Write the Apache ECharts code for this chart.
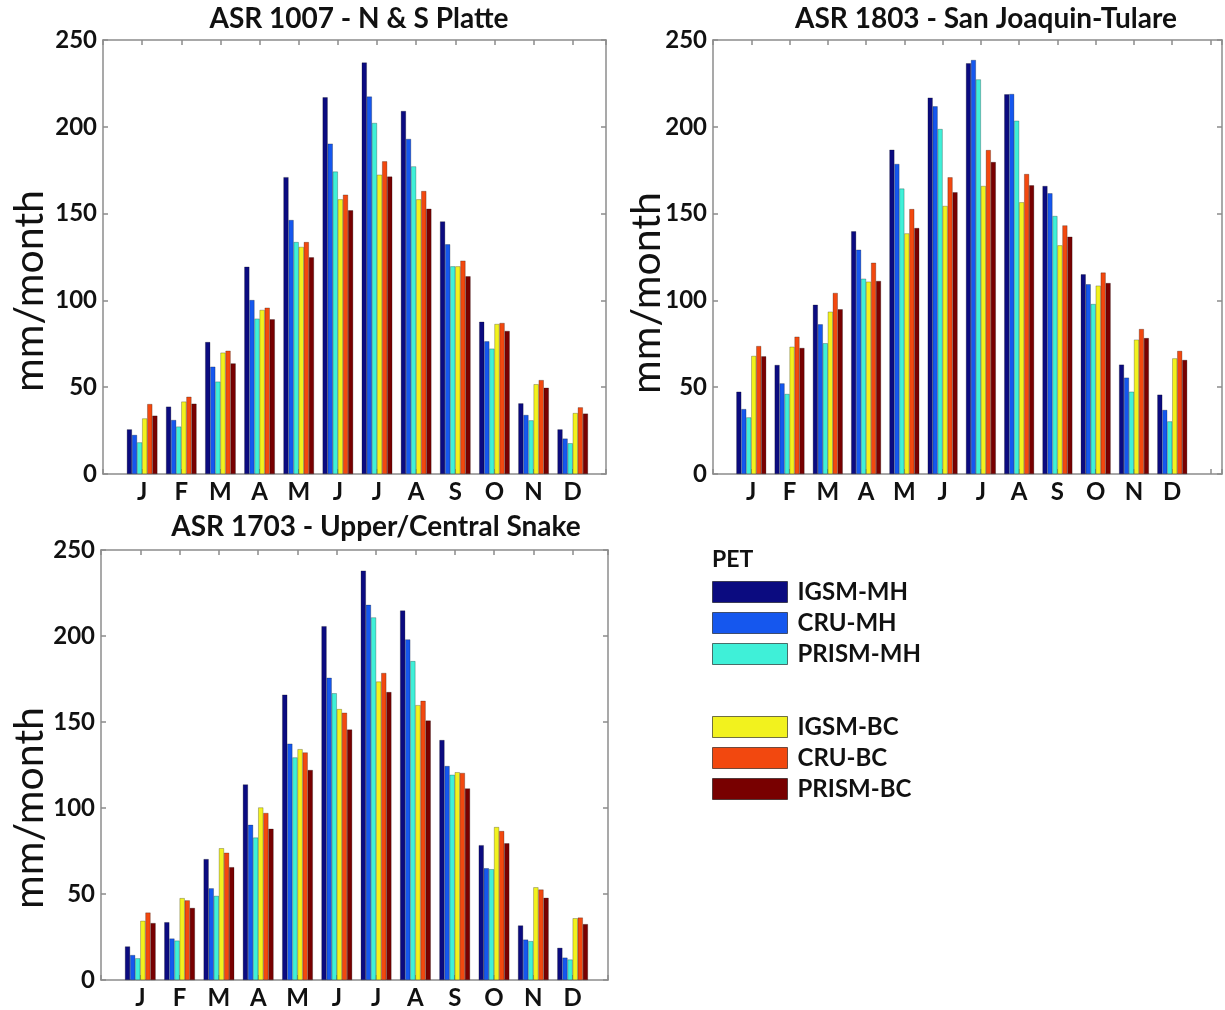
<!DOCTYPE html>
<html>
<head>
<meta charset="utf-8">
<script src="https://cdn.jsdelivr.net/npm/echarts@6/dist/echarts.min.js"></script>
<style>
html, body { margin: 0; padding: 0; background: #fff; }
#chart { width: 1225px; height: 1010px; }
</style>
</head>
<body>
<div id="chart"></div>
<script>
const months = ['J', 'F', 'M', 'A', 'M', 'J', 'J', 'A', 'S', 'O', 'N', 'D'];
const yTicks = [0, 50, 100, 150, 200, 250];
const seriesNames = ['IGSM-MH', 'CRU-MH', 'PRISM-MH', 'IGSM-BC', 'CRU-BC', 'PRISM-BC'];
const seriesColors = ['#0b0b80', '#1557ee', '#3ff0d8', '#f2f21e', '#f2480f', '#780000'];

// ASR 1007 - N & S Platte
const platteIgsmMH  = [25.7, 38.8, 76.0, 119.4, 171.0, 217.0, 237.0, 209.1, 145.5, 87.7, 40.7, 25.7];
const platteCruMH   = [22.5, 31.1, 61.8, 100.2, 146.3, 190.3, 217.4, 193.0, 132.3, 76.4, 34.0, 20.4];
const plattePrismMH = [18.2, 27.3, 53.2, 89.5, 133.6, 174.2, 202.2, 177.2, 119.6, 72.2, 30.9, 17.7];
const platteIgsmBC  = [32.0, 41.7, 69.9, 94.5, 130.8, 158.2, 172.4, 158.2, 119.6, 86.4, 51.7, 35.1];
const platteCruBC   = [40.3, 44.5, 71.0, 95.8, 133.6, 160.9, 180.1, 163.0, 122.9, 87.0, 54.1, 38.4];
const plattePrismBC = [33.6, 40.5, 63.7, 89.1, 124.8, 151.9, 171.3, 152.8, 113.9, 82.4, 49.7, 34.8];

// ASR 1803 - San Joaquin-Tulare
const tulareIgsmMH  = [47.4, 62.8, 97.5, 139.8, 186.8, 216.8, 236.6, 218.7, 165.9, 115.0, 63.0, 45.7];
const tulareCruMH   = [37.4, 52.2, 86.2, 129.2, 178.6, 211.8, 238.5, 218.9, 161.7, 109.3, 55.5, 36.9];
const tularePrismMH = [32.6, 46.1, 75.3, 112.5, 164.4, 198.7, 227.3, 203.5, 148.6, 97.9, 47.4, 30.3];
const tulareIgsmBC  = [68.0, 73.3, 93.5, 110.8, 138.6, 154.4, 165.9, 156.5, 131.7, 108.5, 77.4, 66.6];
const tulareCruBC   = [73.7, 79.1, 104.3, 121.7, 152.6, 170.9, 186.6, 172.8, 143.2, 116.0, 83.5, 70.9];
const tularePrismBC = [67.8, 72.6, 94.9, 111.2, 141.7, 162.3, 179.7, 166.3, 136.7, 110.0, 78.3, 65.7];

// ASR 1703 - Upper/Central Snake
const snakeIgsmMH  = [19.5, 33.6, 70.3, 113.7, 165.9, 205.7, 238.0, 214.8, 139.5, 78.4, 31.7, 18.7];
const snakeCruMH   = [14.5, 24.1, 53.3, 90.2, 137.4, 175.7, 218.1, 198.0, 124.4, 65.0, 23.5, 13.0];
const snakePrismMH = [12.6, 22.9, 48.9, 82.8, 129.4, 166.7, 210.8, 185.4, 119.3, 64.4, 22.6, 11.9];
const snakeIgsmBC  = [34.4, 47.6, 76.6, 100.3, 134.2, 157.5, 173.5, 159.8, 120.8, 88.9, 53.9, 35.9];
const snakeCruBC   = [39.2, 46.3, 74.0, 97.1, 132.3, 155.4, 178.5, 162.3, 120.4, 86.6, 52.6, 36.3];
const snakePrismBC = [33.1, 41.9, 65.6, 87.9, 122.1, 145.6, 167.4, 150.8, 111.4, 79.5, 47.8, 32.5];

const panels = [
  { title: 'ASR 1007 - N & S Platte', data: [platteIgsmMH, platteCruMH, plattePrismMH, platteIgsmBC, platteCruBC, plattePrismBC],
    grid: { left: 103, top: 40, width: 503, height: 434 }, xMax: 12.85, titleX: 359, titleY: 22, nameX: 30, nameY: 291 },
  { title: 'ASR 1803 - San Joaquin-Tulare', data: [tulareIgsmMH, tulareCruMH, tularePrismMH, tulareIgsmBC, tulareCruBC, tularePrismBC],
    grid: { left: 713, top: 40, width: 509, height: 434 }, xMax: 13.3, titleX: 986, titleY: 22, nameX: 647, nameY: 293 },
  { title: 'ASR 1703 - Upper/Central Snake', data: [snakeIgsmMH, snakeCruMH, snakePrismMH, snakeIgsmBC, snakeCruBC, snakePrismBC],
    grid: { left: 101, top: 550, width: 507, height: 436 }, xMax: 12.9, titleX: 376, titleY: 530, nameX: 30, nameY: 808 }
];

const FONT = 'Lato';
const frameColor = '#8c8c8c';

const grid = [], xAxis = [], yAxis = [], series = [], title = [], graphic = [];

panels.forEach(function (p, i) {
  grid.push(p.grid);
  const lineStyle = { color: frameColor, width: 1.5 };
  // bottom (labelled) and top (frame) x axes
  xAxis.push({
    type: 'value', gridIndex: i, min: 0, max: p.xMax, interval: 1, position: 'bottom',
    axisLine: { show: true, onZero: false, lineStyle: lineStyle },
    axisTick: { show: true, inside: true, length: 5, lineStyle: lineStyle },
    splitLine: { show: false },
    axisLabel: {
      margin: 6, color: '#111', fontFamily: FONT, fontWeight: 'bold', fontSize: 24,
      formatter: function (v) { return (Number.isInteger(v) && v >= 1 && v <= 12) ? months[v - 1] : ''; }
    }
  });
  xAxis.push({
    type: 'value', gridIndex: i, min: 0, max: p.xMax, interval: 1, position: 'top',
    axisLine: { show: true, onZero: false, lineStyle: lineStyle },
    axisTick: { show: true, inside: true, length: 5, lineStyle: lineStyle },
    splitLine: { show: false }, axisLabel: { show: false }
  });
  yAxis.push({
    type: 'value', gridIndex: i, min: yTicks[0], max: yTicks[yTicks.length - 1], interval: 50, position: 'left',
    axisLine: { show: true, onZero: false, lineStyle: lineStyle },
    axisTick: { show: true, inside: true, length: 5, lineStyle: lineStyle },
    splitLine: { show: false },
    axisLabel: { margin: 6, color: '#111', fontFamily: FONT, fontWeight: 'bold', fontSize: 24 }
  });
  yAxis.push({
    type: 'value', gridIndex: i, min: yTicks[0], max: yTicks[yTicks.length - 1], interval: 50, position: 'right',
    axisLine: { show: true, onZero: false, lineStyle: lineStyle },
    axisTick: { show: true, inside: true, length: 5, lineStyle: lineStyle },
    splitLine: { show: false }, axisLabel: { show: false }
  });

  p.data.forEach(function (vals, k) {
    series.push({
      name: seriesNames[k], type: 'bar', xAxisIndex: i * 2, yAxisIndex: i * 2,
      barGap: '0%', barCategoryGap: '22%',
      itemStyle: { color: seriesColors[k], borderColor: 'rgba(0,0,0,0.5)', borderWidth: 0.5 },
      data: vals.map(function (v, m) { return [m + 1, v]; })
    });
  });

  title.push({
    text: p.title, left: p.titleX, top: p.titleY - 17, textAlign: 'center', padding: 0,
    textStyle: { fontFamily: FONT, fontWeight: 'bold', fontSize: 28, color: '#111' }
  });
  graphic.push({
    type: 'text', x: p.nameX, y: p.nameY, rotation: Math.PI / 2,
    style: { text: 'mm/month', font: '41px ' + FONT, fill: '#111', align: 'center', verticalAlign: 'middle' }
  });
});

title.push({
  text: 'PET', left: 712, top: 548, padding: 0,
  textStyle: { fontFamily: FONT, fontWeight: 'bold', fontSize: 23, color: '#111' }
});

const legendText = { fontFamily: FONT, fontWeight: 'bold', fontSize: 24, color: '#111', padding: [0, 0, 0, 5] };
const legend = [
  { data: seriesNames.slice(0, 3), orient: 'vertical', left: 712, top: 580, padding: 0,
    itemWidth: 75, itemHeight: 21, itemGap: 7, icon: 'rect', textStyle: legendText,
    itemStyle: { borderColor: 'rgba(0,0,0,0.55)', borderWidth: 1 } },
  { data: seriesNames.slice(3), orient: 'vertical', left: 712, top: 715, padding: 0,
    itemWidth: 75, itemHeight: 21, itemGap: 7, icon: 'rect', textStyle: legendText,
    itemStyle: { borderColor: 'rgba(0,0,0,0.55)', borderWidth: 1 } }
];

const chart = echarts.init(document.getElementById('chart'));
chart.setOption({
  backgroundColor: '#fff',
  animation: false,
  title: title,
  legend: legend,
  grid: grid,
  xAxis: xAxis,
  yAxis: yAxis,
  series: series,
  graphic: graphic
});
</script>
</body>
</html>
